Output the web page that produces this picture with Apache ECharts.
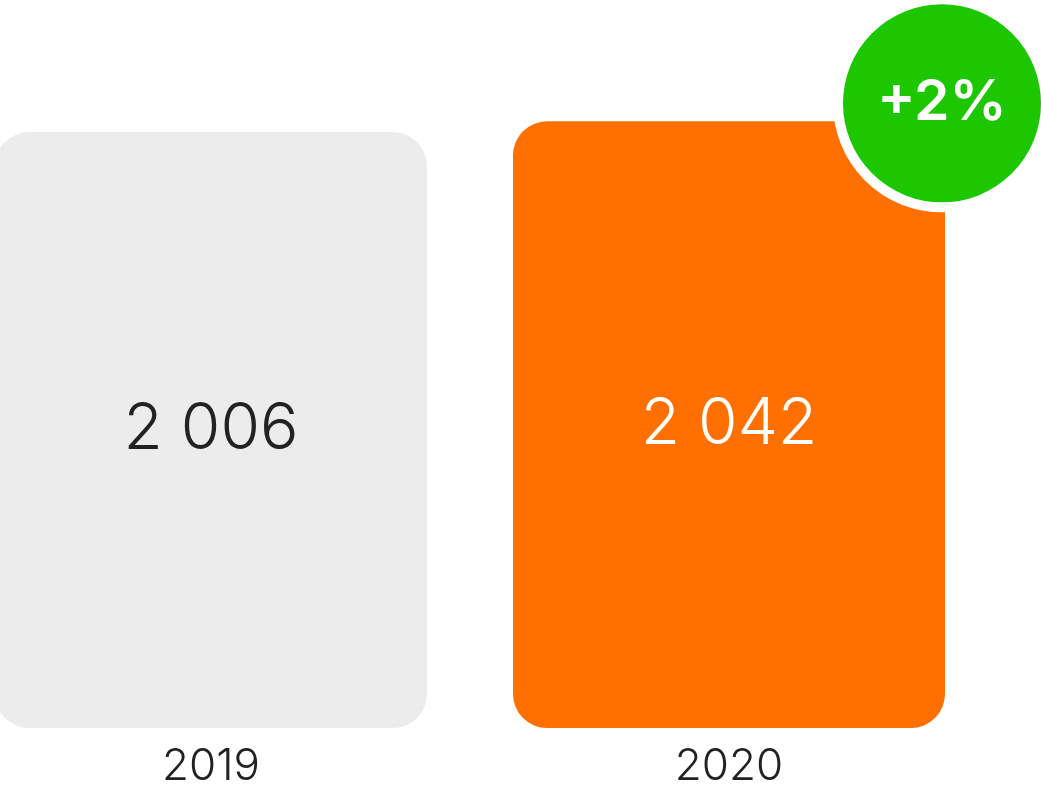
<!DOCTYPE html>
<html>
<head>
<meta charset="utf-8">
<style>
  html, body { margin: 0; padding: 0; background: #fff; }
  #chart { width: 1041px; height: 787px; }
</style>
<script src="https://cdn.jsdelivr.net/npm/echarts@6/dist/echarts.min.js"></script>
</head>
<body>
<div id="chart"></div>
<script>
// 数据
var years = ['2019', '2020'];
var values = [2006, 2042];

var barColors = ['#ececec', '#ff7000'];
var labelColors = ['#222222', '#ffffff'];

function fmt(n) {
    return String(n).replace(/\B(?=(\d{3})+(?!\d))/g, ' ');
}

var growth = Math.round((values[1] - values[0]) / values[0] * 100);

var chart = echarts.init(document.getElementById('chart'));

var option = {
    animation: false,
    textStyle: { fontFamily: 'Inter' },
    // 类目中心落在网格两端
    grid: { left: 211, right: 312, top: 15, bottom: 59, outerBoundsMode: 'none' },
    xAxis: {
        type: 'category',
        data: years,
        boundaryGap: false,
        axisLine: { show: false },
        axisTick: { show: false },
        splitLine: { show: false },
        axisLabel: { fontSize: 44, color: '#222', margin: 17, fontFamily: 'Inter', fontWeight: 300 }
    },
    yAxis: {
        type: 'value',
        min: 0,
        max: 2400,
        show: false,
        splitLine: { show: false }
    },
    series: [
        {
            type: 'bar',
            barWidth: 432,
            data: values.map(function (v, i) {
                return {
                    value: v,
                    itemStyle: { color: barColors[i], borderRadius: 34 },
                    label: { color: labelColors[i] }
                };
            }),
            label: {
                show: true,
                position: 'inside',
                fontSize: 64,
                fontFamily: 'Inter',
                fontWeight: 300,
                formatter: function (p) { return fmt(p.value); }
            }
        },
        {
            // 增长标记
            type: 'scatter',
            clip: false,
            z: 5,
            symbol: 'circle',
            symbolSize: 208,
            symbolOffset: [213, -18],
            data: [[years[1], values[1]]],
            itemStyle: { color: '#1dc700', borderColor: '#fff', borderWidth: 10, opacity: 1 },
            label: {
                show: true,
                position: 'inside',
                formatter: '+' + growth + '%',
                color: '#fff',
                fontSize: 57,
                fontWeight: 600,
                fontFamily: 'Inter'
            }
        }
    ]
};

chart.setOption(option);
window.onresize = function () {
    chart.resize();
};
</script>
</body>
</html>
